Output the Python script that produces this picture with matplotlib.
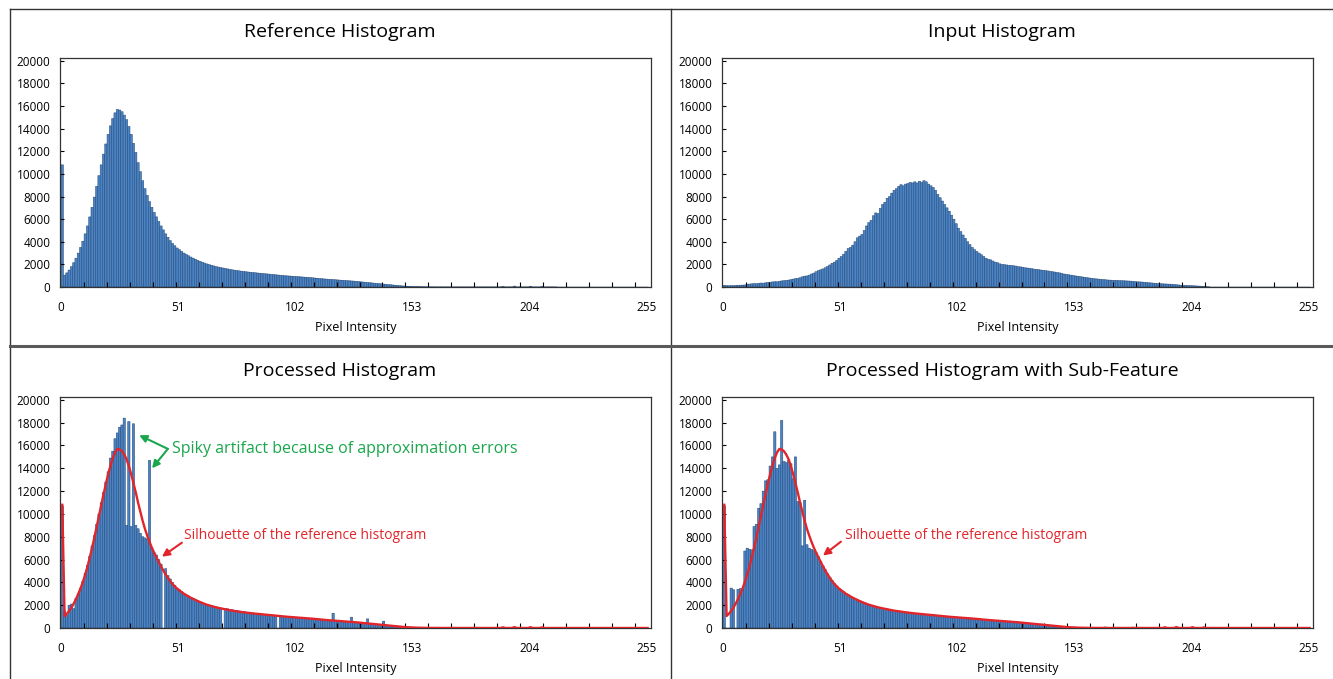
import matplotlib
matplotlib.use("Agg")
import matplotlib.pyplot as plt
from matplotlib.lines import Line2D
from matplotlib.ticker import MultipleLocator

plt.rcParams['font.family'] = ['Open Sans', 'DejaVu Sans']

# ---- data (counts per pixel intensity, 0..255) ----
intensity_ticks = [0, 51, 102, 153, 204, 255]
count_ticks = list(range(0, 20001, 2000))

reference_counts = [
    10800, 1050, 1250, 1500, 1800, 2150, 2550, 3000, 3500, 4050, 4700, 5400, 6200, 7050, 7950, 8900,
    9850, 10800, 11750, 12650, 13500, 14250, 14900, 15400, 15700, 15650, 15500, 15200, 14800, 14200, 13500, 12700,
    11900, 11000, 10200, 9400, 8700, 8100, 7550, 7050, 6600, 6200, 5800, 5400, 5050, 4700, 4400, 4100,
    3850, 3650, 3450, 3300, 3150, 3000, 2880, 2760, 2650, 2550, 2450, 2360, 2270, 2190, 2110, 2040,
    1980, 1920, 1860, 1810, 1760, 1720, 1680, 1640, 1600, 1560, 1520, 1490, 1460, 1430, 1400, 1375,
    1350, 1325, 1300, 1280, 1260, 1240, 1220, 1200, 1180, 1160, 1140, 1120, 1100, 1080, 1060, 1040,
    1020, 1000, 985, 970, 955, 940, 925, 910, 895, 880, 865, 850, 835, 815, 795, 775,
    755, 735, 715, 700, 685, 670, 655, 640, 625, 610, 595, 580, 565, 550, 535, 520,
    500, 480, 460, 440, 420, 400, 380, 360, 340, 320, 300, 280, 260, 240, 220, 200,
    180, 160, 140, 120, 100, 85, 70, 60, 50, 40, 30, 25, 20, 15, 12, 10,
    8, 6, 5, 5, 4, 4, 3, 3, 3, 2, 2, 2, 2, 2, 2, 2,
    2, 2, 2, 2, 2, 2, 2, 2, 2, 2, 2, 2, 2, 2, 2, 2,
    60, 2, 2, 2, 2, 80, 2, 2, 2, 2, 2, 2, 70, 2, 2, 2,
    2, 50, 2, 2, 2, 2, 2, 2, 0, 0, 0, 0, 0, 0, 0, 0,
    0, 0, 0, 0, 0, 0, 0, 0, 0, 0, 0, 0, 0, 0, 0, 0,
    0, 0, 0, 0, 0, 0, 0, 0, 0, 0, 0, 0, 0, 0, 0, 0,
]

input_counts = [
    150, 120, 110, 130, 120, 140, 150, 160, 170, 180, 250, 260, 280, 300, 290, 320,
    350, 340, 370, 400, 420, 450, 470, 460, 500, 540, 560, 580, 610, 650, 700, 740,
    760, 820, 900, 960, 980, 1050, 1150, 1230, 1350, 1450, 1520, 1600, 1700, 1820, 1950, 2100,
    2200, 2350, 2550, 2700, 2900, 3150, 3400, 3500, 3700, 4000, 4350, 4500, 4650, 5000, 5400, 5700,
    5900, 6300, 6550, 6500, 6950, 7300, 7500, 7850, 8000, 8300, 8550, 8700, 8900, 9050, 8950, 9100,
    9150, 9250, 9200, 9300, 9200, 9350, 9250, 9400, 9300, 9100, 8950, 8800, 8550, 8200, 7900, 7600,
    7300, 7000, 6700, 6350, 6000, 5600, 5200, 4900, 4600, 4300, 4000, 3750, 3500, 3300, 3150, 3000,
    2850, 2700, 2550, 2450, 2400, 2300, 2200, 2150, 2050, 2000, 1980, 1950, 1920, 1900, 1880, 1850,
    1800, 1780, 1750, 1700, 1680, 1650, 1620, 1580, 1550, 1530, 1500, 1470, 1450, 1420, 1380, 1350,
    1320, 1280, 1250, 1200, 1150, 1120, 1080, 1050, 1020, 980, 950, 920, 890, 860, 830, 800,
    770, 740, 720, 700, 680, 660, 640, 620, 610, 600, 590, 580, 570, 560, 550, 540,
    530, 520, 500, 480, 460, 450, 440, 420, 400, 380, 360, 340, 320, 300, 290, 280,
    270, 260, 250, 240, 220, 200, 180, 160, 150, 140, 130, 120, 110, 100, 90, 80,
    60, 40, 20, 10, 0, 0, 0, 0, 0, 0, 0, 0, 0, 0, 0, 0,
    0, 0, 0, 0, 0, 0, 0, 0, 0, 0, 0, 0, 0, 0, 0, 0,
    0, 0, 0, 0, 0, 0, 0, 0, 0, 0, 0, 0, 0, 0, 0, 0,
]

processed_counts = [
    10700, 1500, 1100, 2000, 2100, 1700, 2600, 3000, 3500, 4100, 4800, 5500, 6300, 7200, 8100, 9100,
    10000, 11000, 11900, 12800, 13700, 14900, 15500, 16600, 17100, 17600, 17800, 18400, 9000, 18100, 8900, 17900,
    9000, 8700, 8300, 8000, 7900, 7800, 14700, 7000, 6600, 6400, 6000, 5600, 0, 5200, 4600, 4300,
    4000, 3750, 3500, 3350, 3200, 3050, 2900, 2800, 2700, 2600, 2500, 2400, 2300, 2220, 2150, 2080,
    2000, 1950, 1900, 1850, 1800, 1760, 0, 1720, 1680, 1640, 1600, 1560, 1520, 1490, 1460, 1430,
    1400, 1370, 1340, 1310, 1280, 1250, 1230, 1200, 1180, 1160, 1140, 1120, 1100, 1080, 0, 1050,
    1030, 1010, 990, 970, 950, 940, 920, 900, 890, 870, 850, 830, 810, 790, 770, 750,
    730, 710, 690, 680, 660, 650, 1300, 620, 600, 590, 570, 560, 540, 530, 950, 500,
    480, 460, 440, 420, 410, 800, 380, 360, 340, 320, 300, 280, 600, 240, 220, 200,
    180, 160, 140, 120, 100, 80, 60, 40, 30, 20, 15, 10, 8, 5, 4, 3,
    0, 0, 0, 0, 0, 0, 0, 0, 0, 0, 0, 0, 0, 0, 0, 0,
    0, 0, 0, 0, 0, 0, 0, 0, 0, 0, 0, 0, 0, 0, 0, 0,
    0, 0, 0, 0, 0, 0, 0, 0, 0, 0, 0, 0, 0, 0, 0, 0,
    0, 0, 0, 0, 0, 0, 0, 0, 0, 0, 0, 0, 0, 0, 0, 0,
    0, 0, 0, 0, 0, 0, 0, 0, 0, 0, 0, 0, 0, 0, 0, 0,
    0, 0, 0, 0, 0, 0, 0, 0, 0, 0, 0, 0, 0, 0, 0, 0,
]

subfeature_counts = [
    10700, 0, 0, 3500, 3350, 0, 3400, 3450, 3400, 6750, 7000, 6900, 6850, 8900, 9100, 10500,
    10900, 12000, 12900, 13000, 14200, 15000, 17200, 14000, 14300, 18200, 14600, 14500, 14700, 14400, 13100, 15000,
    11100, 11000, 7200, 11200, 7300, 7000, 6900, 6800, 6600, 6250, 5850, 5450, 5100, 4750, 4450, 4150,
    3900, 3680, 3480, 3320, 3170, 3020, 2900, 2780, 2670, 2570, 2470, 2380, 2290, 2210, 2130, 2060,
    2000, 1940, 1880, 1830, 1780, 1740, 1700, 1660, 1620, 1580, 1540, 1510, 1480, 1450, 1420, 1390,
    1365, 1340, 1315, 1295, 1275, 1255, 1235, 1215, 1195, 1175, 1155, 1135, 1115, 1095, 1075, 1055,
    1035, 1015, 1000, 985, 970, 955, 940, 925, 910, 895, 880, 865, 850, 830, 810, 790,
    770, 750, 730, 715, 700, 685, 670, 655, 640, 625, 610, 595, 580, 565, 550, 535,
    515, 495, 475, 455, 435, 415, 395, 375, 355, 340, 340, 300, 280, 260, 240, 220,
    190, 170, 150, 130, 110, 95, 80, 65, 55, 45, 35, 30, 25, 20, 15, 12,
    10, 8, 6, 5, 5, 4, 90, 4, 3, 3, 3, 3, 3, 3, 3, 3,
    3, 3, 80, 2, 2, 2, 2, 2, 2, 2, 2, 2, 2, 2, 2, 2,
    0, 0, 0, 0, 0, 0, 0, 0, 0, 0, 0, 0, 0, 0, 0, 0,
    0, 0, 0, 0, 0, 0, 0, 0, 0, 0, 0, 0, 0, 0, 0, 0,
    0, 0, 0, 0, 0, 0, 0, 0, 0, 0, 0, 0, 0, 0, 0, 0,
    0, 0, 0, 0, 0, 0, 0, 0, 0, 0, 0, 0, 0, 0, 0, 0,
]

BAR_FACE = '#4a84c6'
BAR_EDGE = '#234570'
RED = '#e2252b'
GREEN = '#1aa64c'


def hist_panel(ax, counts, silhouette=None):
    bins = list(range(len(counts)))
    ax.bar(bins, counts, width=1.0, align='edge', color=BAR_FACE,
           edgecolor=BAR_EDGE, linewidth=0.35, snap=False)
    if silhouette is not None:
        centers = [b + 0.5 for b in range(len(silhouette))]
        ax.plot(centers, silhouette, color=RED, lw=1.7, zorder=3)
    ax.set_xlim(-0.5, 257)
    ax.set_ylim(0, 20250)
    ax.set_xticks(intensity_ticks)
    ax.xaxis.set_minor_locator(MultipleLocator(10))
    ax.set_yticks(count_ticks)
    ax.tick_params(axis='x', which='major', length=0, pad=10, labelsize=8.5)
    ax.tick_params(axis='x', which='minor', direction='in', length=3.5, width=0.8)
    ax.tick_params(axis='y', direction='in', length=3, width=0.8, pad=7, labelsize=8.5)
    ax.set_xlabel('Pixel Intensity', fontsize=9, labelpad=5)
    for s in ax.spines.values():
        s.set_color('#333333')
        s.set_linewidth(0.9)


fig = plt.figure(figsize=(13.33, 6.79), dpi=100)

W = 1333.0
H = 679.0
ax_w = 591 / W
top_y = 1 - 287 / H
bot_y = 1 - 628 / H
ax_h_top = 229 / H
ax_h_bot = 231 / H

ax1 = fig.add_axes([60 / W, top_y, ax_w, ax_h_top])
ax2 = fig.add_axes([722 / W, top_y, ax_w, ax_h_top])
ax3 = fig.add_axes([60 / W, bot_y, ax_w, ax_h_bot])
ax4 = fig.add_axes([722 / W, bot_y, ax_w, ax_h_bot])

hist_panel(ax1, reference_counts)
hist_panel(ax2, input_counts)
hist_panel(ax3, processed_counts, reference_counts)
hist_panel(ax4, subfeature_counts, reference_counts)

# panel titles
fig.text(340 / W, 1 - 32 / H, 'Reference Histogram', ha='center', va='center', fontsize=14)
fig.text(1002 / W, 1 - 32 / H, 'Input Histogram', ha='center', va='center', fontsize=14)
fig.text(340 / W, 1 - 371 / H, 'Processed Histogram', ha='center', va='center', fontsize=14)
fig.text(1002 / W, 1 - 371 / H, 'Processed Histogram with Sub-Feature', ha='center', va='center', fontsize=14)

# annotations
arrow_g = dict(arrowstyle='-|>', color=GREEN, lw=1.5, mutation_scale=11, shrinkA=0, shrinkB=0)
ax3.annotate('', xy=(34, 16900), xytext=(46.5, 15700), arrowprops=arrow_g)
ax3.annotate('', xy=(39.6, 14000), xytext=(46.5, 15700), arrowprops=arrow_g)
ax3.text(48.3, 15700, 'Spiky artifact because of approximation errors', color=GREEN,
         fontsize=11.5, ha='left', va='center')

arrow_r = dict(arrowstyle='-|>', color=RED, lw=1.5, mutation_scale=11, shrinkA=0, shrinkB=0)
ax3.annotate('', xy=(43.9, 6250), xytext=(52.6, 7480), arrowprops=arrow_r)
ax3.text(53.5, 8100, 'Silhouette of the reference histogram', color=RED,
         fontsize=10, ha='left', va='center')
ax4.annotate('', xy=(43.5, 6350), xytext=(51.3, 7570), arrowprops=arrow_r)
ax4.text(53.0, 8100, 'Silhouette of the reference histogram', color=RED,
         fontsize=10, ha='left', va='center')

# panel frame lines
frame = dict(transform=fig.transFigure, color='#333333', lw=1.0)
fig.add_artist(Line2D([10 / W, 1], [1 - 9 / H, 1 - 9 / H], **frame))
fig.add_artist(Line2D([10 / W, 10 / W], [0, 1 - 9 / H], **frame))
fig.add_artist(Line2D([671 / W, 671 / W], [0, 1 - 9 / H], **frame))
fig.add_artist(Line2D([10 / W, 1], [1 - 346 / H, 1 - 346 / H], transform=fig.transFigure,
                      color='#5a5a5a', lw=2.2))

fig.savefig('out.png', dpi=100)
